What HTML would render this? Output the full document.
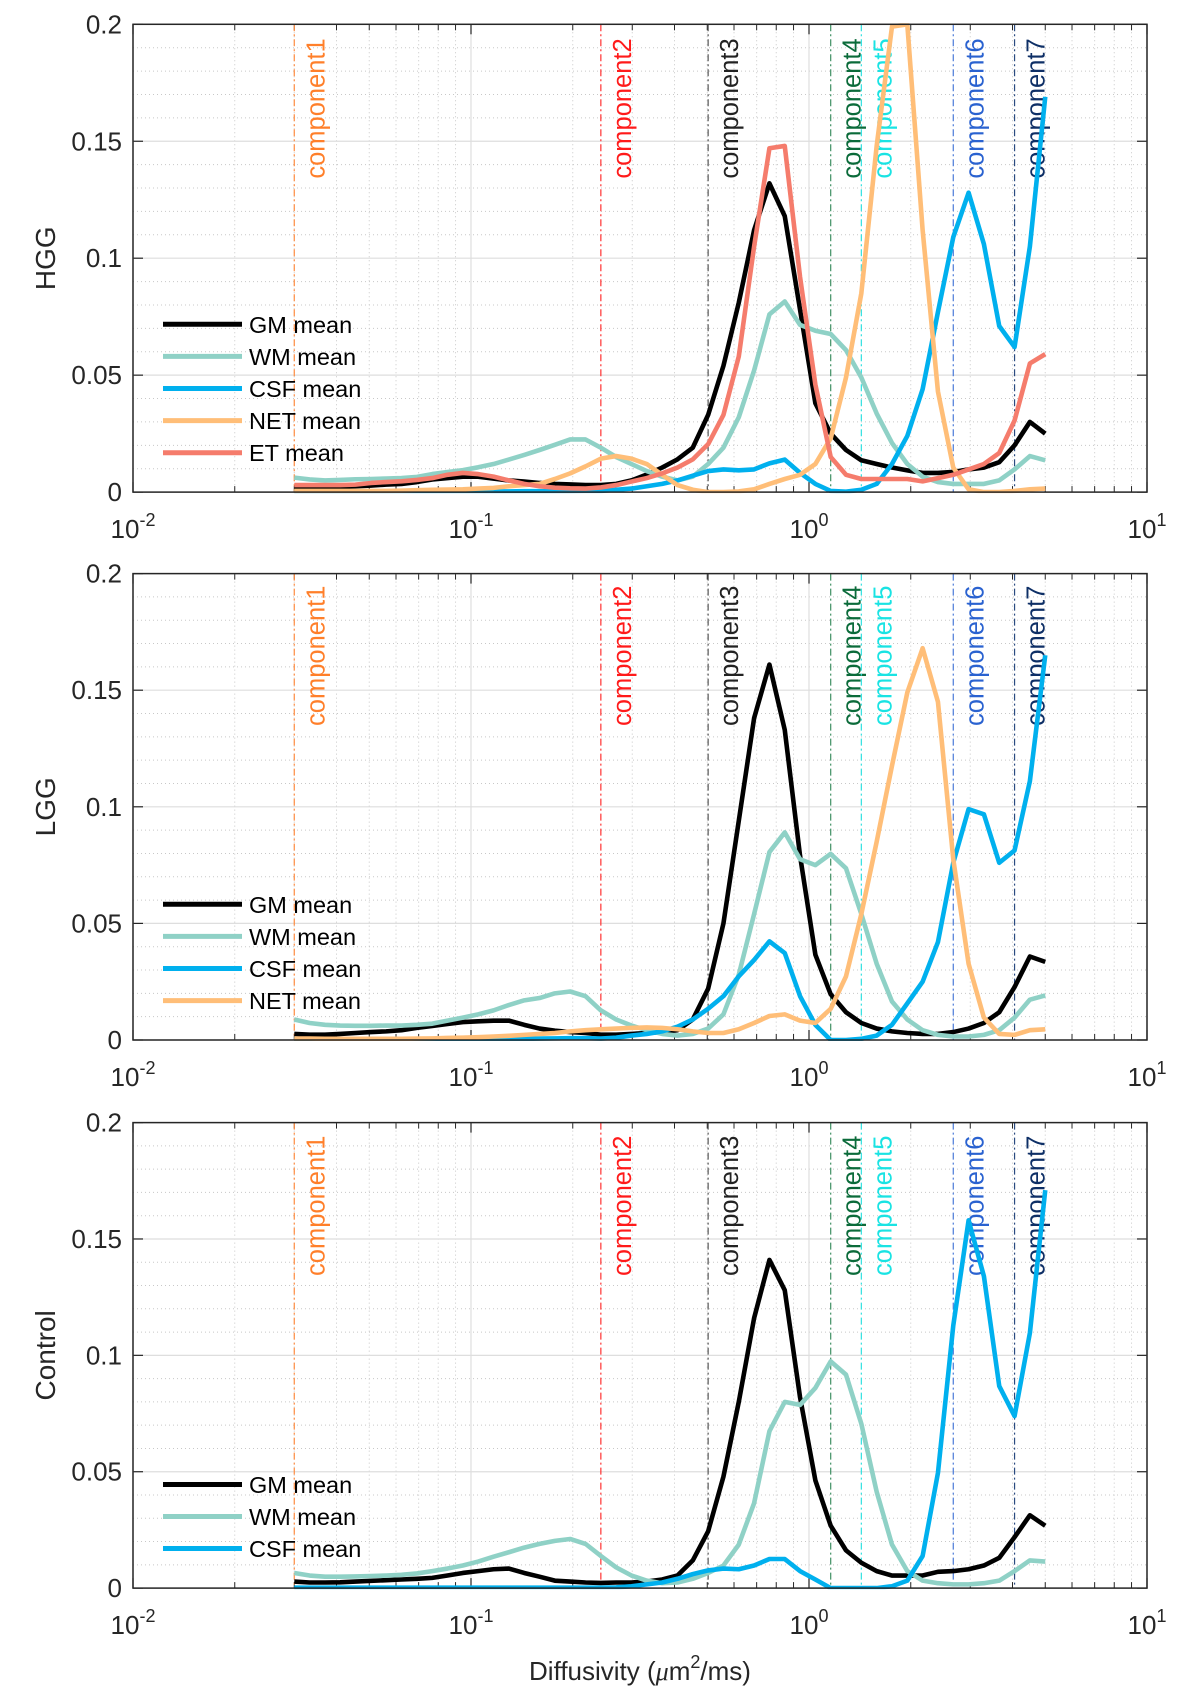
<!DOCTYPE html>
<html><head><meta charset="utf-8"><style>
html,body{margin:0;padding:0;background:#fff;}
svg{display:block;font-family:"Liberation Sans",Arial,sans-serif;}
</style></head><body>
<svg id="chart" width="1190" height="1691" viewBox="0 0 1190 1691" xmlns="http://www.w3.org/2000/svg"></svg>
<script>
const xValues=[0.0300,0.0333,0.0370,0.0410,0.0455,0.0506,0.0561,0.0623,0.0692,0.0768,0.0852,0.0946,0.1050,0.1166,0.1294,0.1437,0.1595,0.1770,0.1965,0.2182,0.2422,0.2688,0.2984,0.3312,0.3677,0.4082,0.4531,0.5030,0.5583,0.6198,0.6880,0.7637,0.8477,0.9408,1.0443,1.1593,1.2868,1.4284,1.5856,1.7600,1.9537,2.1686,2.4072,2.6720,2.9660,3.2923,3.6546,4.0567,4.5030,5.0000];
const componentNames=["component1","component2","component3","component4","component5","component6","component7"];
const componentX=[0.03,0.2422,0.5030,1.1593,1.4284,2.6720,4.0567];
const yTicks=[0,0.05,0.1,0.15,0.2];
const yTickLabels=["0","0.05","0.1","0.15","0.2"];
const xTickExps=[-2,-1,0,1];
const panelNames=["HGG","LGG","Control"];

const hggGM=[0.002,0.002,0.002,0.002,0.0025,0.0028,0.0032,0.0035,0.0043,0.0054,0.006,0.0066,0.0066,0.0058,0.005,0.0045,0.0039,0.0035,0.0033,0.003,0.003,0.0035,0.005,0.0075,0.0105,0.014,0.019,0.033,0.054,0.081,0.112,0.132,0.118,0.078,0.038,0.025,0.018,0.0136,0.012,0.0105,0.0093,0.0082,0.0082,0.0086,0.0097,0.0105,0.0128,0.02,0.030,0.025];
const hggWM=[0.0062,0.0054,0.005,0.0052,0.0055,0.0056,0.0058,0.006,0.0065,0.0077,0.0086,0.0094,0.0106,0.012,0.0139,0.0159,0.018,0.0202,0.0225,0.0225,0.019,0.015,0.012,0.009,0.0066,0.005,0.0066,0.012,0.019,0.032,0.052,0.076,0.0815,0.0715,0.069,0.0676,0.0607,0.049,0.0336,0.021,0.012,0.0066,0.0043,0.0035,0.0035,0.0035,0.005,0.0097,0.0154,0.0136];
const hggCSF=[0.0003,0.0003,0.0002,0.0002,0.0002,0.0002,0.0002,0.0002,0.0002,0.0002,0.0003,0.0003,0.0003,0.0003,0.0003,0.0004,0.0004,0.0004,0.0004,0.0005,0.0005,0.001,0.0015,0.0025,0.0035,0.005,0.007,0.009,0.0097,0.0093,0.0097,0.0123,0.0139,0.0082,0.0035,0.0005,0.0002,0.001,0.0035,0.012,0.024,0.044,0.077,0.109,0.128,0.106,0.071,0.062,0.105,0.169];
const hggNET=[0.0005,0.0005,0.0005,0.0005,0.0005,0.0005,0.0005,0.0006,0.0008,0.001,0.0011,0.0012,0.0015,0.0018,0.0025,0.003,0.0035,0.0056,0.008,0.011,0.0143,0.0154,0.0143,0.012,0.0074,0.003,0.001,0,0,0.0003,0.0012,0.0035,0.0056,0.0074,0.012,0.023,0.049,0.085,0.148,0.199,0.2,0.112,0.043,0.0105,0.0012,0,0,0.0005,0.0012,0.0015];
const hggET=[0.003,0.003,0.003,0.003,0.0032,0.0039,0.0043,0.0046,0.0052,0.006,0.0074,0.0082,0.0077,0.0066,0.005,0.0035,0.0025,0.0019,0.0016,0.0015,0.002,0.003,0.0045,0.006,0.008,0.0105,0.014,0.0205,0.033,0.058,0.105,0.147,0.148,0.092,0.046,0.015,0.0074,0.0056,0.0056,0.0056,0.0056,0.0046,0.006,0.0074,0.0097,0.012,0.0167,0.0306,0.055,0.059];

const lggGM=[0.0026,0.0023,0.0023,0.0026,0.003,0.0034,0.0037,0.0042,0.0052,0.006,0.0069,0.0077,0.008,0.0083,0.0083,0.0065,0.0049,0.004,0.0034,0.003,0.0023,0.0023,0.0026,0.003,0.0034,0.0042,0.0088,0.022,0.05,0.094,0.138,0.161,0.133,0.079,0.0366,0.0196,0.0119,0.0073,0.0049,0.0037,0.003,0.0026,0.0026,0.0034,0.0049,0.0073,0.0119,0.0227,0.0358,0.0335];
const lggWM=[0.0088,0.0073,0.0065,0.0062,0.0061,0.0061,0.0062,0.0062,0.0065,0.007,0.0083,0.0096,0.011,0.0127,0.015,0.017,0.018,0.02,0.0208,0.0188,0.0127,0.0088,0.0062,0.0042,0.0026,0.0019,0.0026,0.0049,0.011,0.028,0.054,0.0806,0.089,0.0775,0.075,0.0798,0.0736,0.054,0.0327,0.0165,0.0088,0.0042,0.0022,0.0015,0.0015,0.0022,0.0042,0.0096,0.0173,0.0191];
const lggCSF=[0.0004,0.0003,0.0003,0.0003,0.0002,0.0002,0.0002,0.0002,0.0002,0.0002,0.0002,0.0003,0.0003,0.0003,0.0004,0.0005,0.0006,0.0007,0.0008,0.0008,0.0006,0.001,0.0019,0.0026,0.0037,0.0057,0.0088,0.0134,0.0188,0.0273,0.0343,0.0423,0.0373,0.0188,0.0065,0,0,0.0005,0.0019,0.0065,0.0157,0.025,0.042,0.076,0.099,0.0968,0.076,0.0813,0.111,0.165];
const lggNET=[0.0006,0.0006,0.0005,0.0005,0.0005,0.0005,0.0005,0.0005,0.0006,0.0007,0.0009,0.001,0.0012,0.0015,0.0018,0.0022,0.0026,0.003,0.0037,0.0042,0.0046,0.0049,0.0052,0.0054,0.0052,0.0046,0.0037,0.003,0.003,0.0046,0.0073,0.0103,0.011,0.0083,0.0073,0.0134,0.0273,0.054,0.085,0.1176,0.149,0.168,0.145,0.0775,0.0327,0.0096,0.0026,0.0022,0.0042,0.0046];

const ctlGM=[0.0028,0.0024,0.0024,0.0025,0.0028,0.0031,0.0034,0.0037,0.004,0.0044,0.0054,0.0065,0.0073,0.0081,0.0084,0.0065,0.0049,0.0032,0.0028,0.0024,0.0022,0.0024,0.0024,0.0028,0.0037,0.0054,0.0119,0.0244,0.0479,0.08,0.116,0.141,0.128,0.082,0.0463,0.0268,0.0162,0.0109,0.0073,0.0054,0.0054,0.0054,0.007,0.0073,0.0081,0.0097,0.013,0.0219,0.0313,0.0268];
const ctlWM=[0.0065,0.0054,0.0049,0.0049,0.005,0.0052,0.0054,0.0057,0.0063,0.0073,0.0084,0.0097,0.0114,0.0135,0.0154,0.0174,0.019,0.0203,0.0211,0.019,0.0138,0.0089,0.0054,0.0032,0.0021,0.0024,0.004,0.0065,0.0097,0.0187,0.0365,0.0674,0.08,0.0787,0.086,0.0974,0.0917,0.0706,0.0414,0.0187,0.0073,0.0032,0.0021,0.0016,0.0016,0.0021,0.0032,0.0073,0.0119,0.0114];
const ctlCSF=[0.0002,0.0002,0.0002,0.0002,0.0002,0.0002,0.0002,0.0002,0.0002,0.0002,0.0002,0.0002,0.0002,0.0002,0.0002,0.0002,0.0002,0.0002,0.0002,0.0002,0.0002,0.0003,0.0008,0.0016,0.0024,0.004,0.006,0.0076,0.0084,0.0081,0.0097,0.0125,0.0125,0.0073,0.0037,0,0,0,0,0.0008,0.0032,0.0138,0.0495,0.1128,0.158,0.134,0.0868,0.0739,0.1096,0.171];

const svg=document.getElementById('chart');
const NS='http://www.w3.org/2000/svg';
function mk(tag,attrs,parent){const e=document.createElementNS(NS,tag);for(const k in attrs)e.setAttribute(k,attrs[k]);(parent||svg).appendChild(e);return e;}

const L=133,R=1147;
function xs(v){return L+(Math.log10(v)+2)*(R-L)/3;}
const panels=[
 {top:24.3,bottom:492.1,name:panelNames[0],legendY:324.3,legendStep:32.1,labelOff:14,
  series:[{label:"GM mean",data:hggGM,color:"#000000"},{label:"WM mean",data:hggWM,color:"#8fd1c6"},{label:"CSF mean",data:hggCSF,color:"#00b0ee"},{label:"NET mean",data:hggNET,color:"#ffbe78"},{label:"ET mean",data:hggET,color:"#f57c6c"}]},
 {top:573.6,bottom:1040,name:panelNames[1],legendY:904.3,legendStep:32.1,labelOff:12,
  series:[{label:"GM mean",data:lggGM,color:"#000000"},{label:"WM mean",data:lggWM,color:"#8fd1c6"},{label:"CSF mean",data:lggCSF,color:"#00b0ee"},{label:"NET mean",data:lggNET,color:"#ffbe78"}]},
 {top:1122.6,bottom:1588.1,name:panelNames[2],legendY:1484.5,legendStep:32,labelOff:13,
  series:[{label:"GM mean",data:ctlGM,color:"#000000"},{label:"WM mean",data:ctlWM,color:"#8fd1c6"},{label:"CSF mean",data:ctlCSF,color:"#00b0ee"}]}
];
const compColors=["#ff7f2a","#ff1a1a","#222222","#0b6b3a","#19e3e3","#2a62d0","#0e2f66"];
const compLineColors=["#ff8c40","#ff3030","#555555","#3f8f64","#30e0e0","#4a7ad8","#2a4a80"];

panels.forEach((p,pi)=>{
  const ys=v=>p.bottom-(v/0.2)*(p.bottom-p.top);
  const g=mk('g',{});
  
  
  const clipId='clip'+pi;
  const cp=mk('clipPath',{id:clipId},g);
  mk('rect',{x:L,y:p.top-1,width:R-L,height:p.bottom-p.top+2},cp);
  for(let v=0.01;v<0.2;v+=0.01){
    if(Math.abs(v/0.05-Math.round(v/0.05))<1e-6)continue;
    const l=mk('line',{x1:L,x2:R,y1:ys(v),y2:ys(v),stroke:'#c8c8c8','stroke-width':1,'stroke-dasharray':'1,3'},g);
    
    
  }
  for(let d=-2;d<1;d++){for(let m=2;m<=9;m++){
    const x=xs(m*Math.pow(10,d));
    const l=mk('line',{x1:x,x2:x,y1:p.top,y2:p.bottom,stroke:'#c8c8c8','stroke-width':1,'stroke-dasharray':'1,3'},g);
    
    
    mk('line',{x1:x,x2:x,y1:p.bottom,y2:p.bottom-6,stroke:'#262626','stroke-width':1},g);
    mk('line',{x1:x,x2:x,y1:p.top,y2:p.top+6,stroke:'#262626','stroke-width':1},g);
  }}
  yTicks.forEach(v=>{
    const l=mk('line',{x1:L,x2:R,y1:ys(v),y2:ys(v),stroke:'#dedede','stroke-width':1.2},g);
    
    
    mk('line',{x1:L,x2:L+10,y1:ys(v),y2:ys(v),stroke:'#262626','stroke-width':1.2},g);
    mk('line',{x1:R,x2:R-10,y1:ys(v),y2:ys(v),stroke:'#262626','stroke-width':1.2},g);
  });
  xTickExps.forEach(e=>{
    const x=xs(Math.pow(10,e));
    const l=mk('line',{x1:x,x2:x,y1:p.top,y2:p.bottom,stroke:'#dedede','stroke-width':1.2},g);
    
    
    mk('line',{x1:x,x2:x,y1:p.bottom,y2:p.bottom-10,stroke:'#262626','stroke-width':1.2},g);
    mk('line',{x1:x,x2:x,y1:p.top,y2:p.top+10,stroke:'#262626','stroke-width':1.2},g);
    const t=mk('text',{x:x,y:p.bottom+46,'text-anchor':'middle','font-size':26,fill:'#262626'},g);
    
    
    t.appendChild(document.createTextNode('10'));
    const s=mk('tspan',{'font-size':18,dy:-12},t);
    s.textContent=String(e);
  });
  yTicks.forEach((v,i)=>{
    const t=mk('text',{x:122,y:ys(v)+9,'text-anchor':'end','font-size':26,fill:'#262626'},g);
    
    
    t.textContent=yTickLabels[i];
  });
  const cy=(p.top+p.bottom)/2;
  const yl=mk('text',{x:55,y:cy,'text-anchor':'middle','font-size':28,fill:'#262626',transform:`rotate(-90 55 ${cy})`},g);
  
  
  yl.textContent=p.name;
  componentX.forEach((cv,ci)=>{
    const x=xs(cv);
    const l=mk('line',{x1:x,x2:x,y1:p.top,y2:p.bottom,stroke:compLineColors[ci],'stroke-width':1.2,'stroke-dasharray':'7,3,2,3'},g);
    
    
    const tx=x+30,ty=p.top+p.labelOff;
    const t=mk('text',{x:tx,y:ty,'text-anchor':'end','font-size':25.5,fill:compColors[ci],transform:`rotate(-90 ${tx} ${ty})`},g);
    
    
    t.textContent=componentNames[ci];
  });
  const sg=mk('g',{'clip-path':`url(#${clipId})`},g);
  p.series.forEach(s=>{
    let d='';
    s.data.forEach((v,i)=>{d+=(i?'L':'M')+xs(xValues[i]).toFixed(2)+','+ys(v).toFixed(2);});
    const path=mk('path',{d:d,fill:'none',stroke:s.color,'stroke-width':4.6,'stroke-linejoin':'round'},sg);
    
    
  });
  const box=mk('rect',{x:L,y:p.top,width:R-L,height:p.bottom-p.top,fill:'none',stroke:'#262626','stroke-width':1.5},g);
  
  
  p.series.forEach((s,i)=>{
    const y=p.legendY+i*p.legendStep;
    const le=mk('g',{},g);
    
    
    mk('line',{x1:163,x2:242,y1:y,y2:y,stroke:s.color,'stroke-width':5},le);
    const t=mk('text',{x:249,y:y+8.5,'font-size':23.5,fill:'#000'},le);
    t.textContent=s.label;
  });
});
const xt=mk('text',{x:640,y:1680,'text-anchor':'middle','font-size':26,fill:'#262626'});


xt.appendChild(document.createTextNode('Diffusivity ('));
const mu=mk('tspan',{'font-style':'italic','font-family':'"Liberation Serif",serif'},xt);mu.textContent='\u03bc';
xt.appendChild(document.createTextNode('m'));
const sup=mk('tspan',{'font-size':18,dy:-12},xt);sup.textContent='2';
const rest=mk('tspan',{dy:12},xt);rest.textContent='/ms)';
</script>
</body></html>
